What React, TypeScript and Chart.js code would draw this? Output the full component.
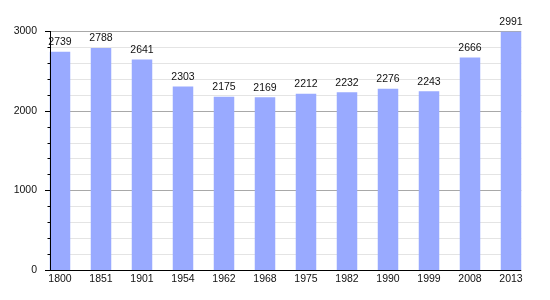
import React, { useEffect, useRef } from "react";
import { Chart, registerables } from "chart.js";

Chart.register(...registerables);

const years = ["1800", "1851", "1901", "1954", "1962", "1968", "1975", "1982", "1990", "1999", "2008", "2013"];
const population = [2739, 2788, 2641, 2303, 2175, 2169, 2212, 2232, 2276, 2243, 2666, 2991];
const yMax = 3000;
const majorStep = 1000;
const minorStep = 200;

const FONT = "'Liberation Sans', Arial, sans-serif";
const FONT_SIZE = 10.5;

const gridPlugin = {
  id: "customGrid",
  beforeDatasetsDraw(chart: any) {
    const meta = chart.getDatasetMeta(0);
    const first = meta.data[0];
    const last = meta.data[meta.data.length - 1];
    const left = first.x - first.width / 2;
    const right = last.x + last.width / 2;
    const y = chart.scales.y;
    const ctx = chart.ctx;
    ctx.save();
    ctx.lineWidth = 1;
    for (let v = minorStep; v <= yMax; v += minorStep) {
      const py = Math.round(y.getPixelForValue(v)) + 0.5;
      ctx.strokeStyle = v % majorStep === 0 ? "#a8a8a8" : "#e4e4e4";
      ctx.beginPath();
      ctx.moveTo(left, py);
      ctx.lineTo(right, py);
      ctx.stroke();
    }
    ctx.restore();
  },
  afterDatasetsDraw(chart: any) {
    const meta = chart.getDatasetMeta(0);
    const first = meta.data[0];
    const last = meta.data[meta.data.length - 1];
    const left = Math.round(first.x - first.width / 2);
    const right = last.x + last.width / 2;
    const y = chart.scales.y;
    const ctx = chart.ctx;
    ctx.save();
    ctx.strokeStyle = "#000";
    ctx.lineWidth = 1;
    const bottom = Math.round(y.getPixelForValue(0)) + 0.5;
    const top = y.getPixelForValue(yMax);
    ctx.beginPath();
    ctx.moveTo(left + 0.5, top);
    ctx.lineTo(left + 0.5, bottom);
    ctx.moveTo(left, bottom);
    ctx.lineTo(right, bottom);
    ctx.stroke();
    for (let v = 0; v <= yMax; v += minorStep) {
      const py = Math.round(y.getPixelForValue(v)) + 0.5;
      const len = v % majorStep === 0 ? 5 : 2.5;
      ctx.beginPath();
      ctx.moveTo(left - len, py);
      ctx.lineTo(left, py);
      ctx.stroke();
    }
    ctx.fillStyle = "#111";
    ctx.font = FONT_SIZE + "px " + FONT;
    ctx.textAlign = "center";
    ctx.textBaseline = "middle";
    meta.data.forEach((bar: any, i: number) => {
      ctx.fillText(String(population[i]), bar.x, bar.y - 9.5);
    });
    ctx.restore();
  },
};

export default function App() {
  const ref = useRef<HTMLCanvasElement>(null);
  useEffect(() => {
    if (!ref.current) return;
    const chart = new Chart(ref.current, {
      type: "bar",
      data: {
        labels: years,
        datasets: [
          {
            data: population,
            backgroundColor: "rgb(153,170,255)",
            borderWidth: 0,
            barPercentage: 0.5,
            categoryPercentage: 1,
          },
        ],
      },
      options: {
        animation: false,
        responsive: false,
        devicePixelRatio: 1,
        layout: { padding: { left: 0, right: 18.5, top: 31, bottom: 0 } },
        plugins: { legend: { display: false }, tooltip: { enabled: false } },
        scales: {
          x: {
            offset: true,
            grid: { display: false, drawTicks: false },
            border: { display: false },
            ticks: { color: "#111", font: { family: FONT, size: FONT_SIZE }, padding: 2.5, maxRotation: 0, autoSkip: false },
            afterFit: (s: any) => {
              s.height = 30;
            },
          },
          y: {
            min: 0,
            max: yMax,
            grid: { display: false, drawTicks: false },
            border: { display: false },
            ticks: {
              stepSize: majorStep,
              color: "#111",
              font: { family: FONT, size: FONT_SIZE },
              padding: 2.5,
              callback: (v: any) => String(v),
            },
            afterFit: (s: any) => {
              s.width = 39.5;
            },
          },
        },
      },
      plugins: [gridPlugin],
    });
    return () => chart.destroy();
  }, []);
  return (
    <div style={{ position: "fixed", left: 0, top: 0, width: 550, height: 300, background: "#fff" }}>
      <canvas ref={ref} width={550} height={300} style={{ display: "block" }} />
    </div>
  );
}
